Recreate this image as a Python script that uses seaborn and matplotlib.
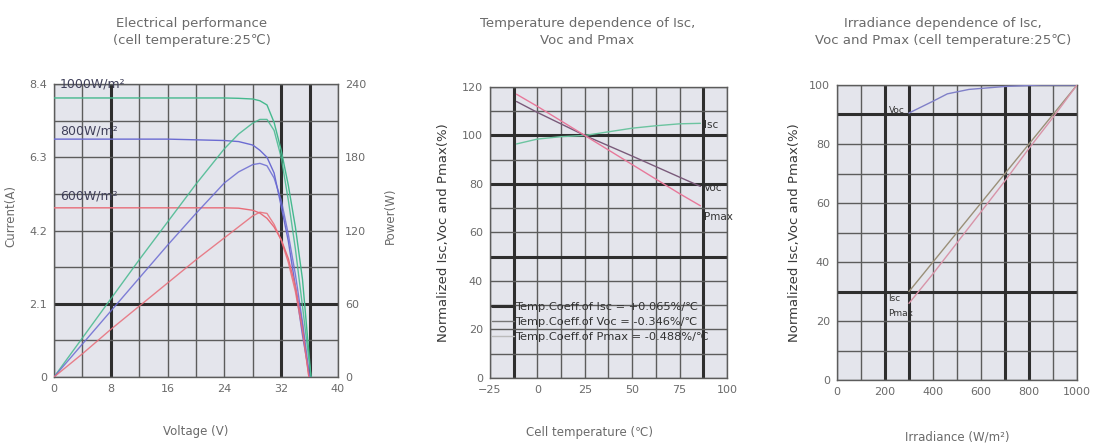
import pandas as pd
import seaborn as sns
import matplotlib.pyplot as plt
from matplotlib.lines import Line2D

# --- data ---
# panel 1: I-V and P-V curves
v_1000 = [0, 4, 8, 12, 16, 20, 24, 26, 28, 29, 30, 31, 32, 33, 34, 35, 36.2]
v_800 = [0, 4, 8, 12, 16, 20, 24, 26, 28, 29, 30, 31, 32, 33, 34, 35, 36.0]
v_600 = [0, 4, 8, 12, 16, 20, 24, 26, 28, 29, 30, 31, 32, 33, 34, 35, 35.9]
i_1000 = [8.0, 8.0, 8.0, 8.0, 8.0, 8.0, 8.0, 7.99, 7.97, 7.92, 7.8, 7.3, 6.5, 5.5, 4.3, 2.8, 0]
i_800 = [6.82, 6.82, 6.82, 6.82, 6.82, 6.8, 6.78, 6.75, 6.65, 6.5, 6.3, 5.85, 4.9, 3.9, 2.6, 1.2, 0]
i_600 = [4.85, 4.85, 4.85, 4.85, 4.85, 4.85, 4.85, 4.84, 4.78, 4.7, 4.55, 4.3, 3.94, 3.4, 2.6, 1.5, 0]
p_1000 = [0, 32, 64, 96, 127, 158, 187, 199, 208, 211, 211, 202, 180, 145, 105, 58, 0]
p_800 = [0, 27, 54, 81, 108, 134, 159, 168, 174, 175, 173, 163, 145, 117, 84, 45, 0]
p_600 = [0, 19, 39, 58, 77, 96, 114, 123, 132, 135, 134, 125, 112, 94, 70, 38, 0]
irr_labels = ['1000W/m²', '800W/m²', '600W/m²']

# panel 2: temperature dependence
temp_isc = [-11, 0, 12.5, 25, 37.5, 50, 62.5, 75, 86]
isc_temp = [96.5, 98.5, 99.5, 100, 101.5, 103, 104, 104.8, 105]
temp_vp = [-11, 0, 25, 50, 75, 86]
voc_temp = [114, 109.5, 100, 91.5, 82.8, 79]
pmax_temp = [117, 112, 100, 88, 76, 71]
coeff_text = ['Temp.Coeff.of Isc = +0.065%/℃',
              'Temp.Coeff.of Voc = -0.346%/℃',
              'Temp.Coeff.of Pmax = -0.488%/℃']

# panel 3: irradiance dependence
irr_voc = [300, 400, 460, 550, 700, 850, 1000]
voc_irr = [90.5, 94.5, 97, 98.5, 99.5, 100, 100]
irr_lin = [300, 400, 500, 600, 700, 800, 900, 1000]
isc_irr = [30, 40, 50, 60, 70, 80, 90, 100]
pmax_irr = [26, 36, 46.5, 57, 67.5, 78.5, 89, 100]

sns.set_style('white')
plt.rcParams['font.family'] = ['DejaVu Sans', 'Noto Sans CJK SC']

TXT = '#6a6a6a'
FACE = '#e4e5ec'
GRID = '#5c5c5c'
THICK = '#2e2e2e'
TICK_FS = 8
LAB_FS = 8.5

fig = plt.figure(figsize=(11.02, 4.45), dpi=100)
ax1 = fig.add_axes([0.049, 0.1528, 0.2577, 0.6584])
ax2 = fig.add_axes([0.4446, 0.1506, 0.2151, 0.654])
ax3 = fig.add_axes([0.7595, 0.146, 0.2178, 0.663])


def style_axes(ax, xgrid, ygrid, thick_x, thick_y):
    ax.set_facecolor(FACE)
    for x in xgrid:
        ax.axvline(x, color=THICK if x in thick_x else GRID,
                   lw=2.2 if x in thick_x else 1.0, zorder=1)
    for y in ygrid:
        ax.axhline(y, color=THICK if y in thick_y else GRID,
                   lw=2.2 if y in thick_y else 1.0, zorder=1)
    for s in ax.spines.values():
        s.set_color(GRID)
        s.set_linewidth(1.0)
    ax.tick_params(length=0, labelsize=TICK_FS, labelcolor=TXT, pad=5)


# ---------- panel 1 ----------
iv = pd.concat([
    pd.DataFrame({'V': v_1000, 'I': i_1000, 'P': p_1000, 'irr': irr_labels[0]}),
    pd.DataFrame({'V': v_800, 'I': i_800, 'P': p_800, 'irr': irr_labels[1]}),
    pd.DataFrame({'V': v_600, 'I': i_600, 'P': p_600, 'irr': irr_labels[2]}),
])
pal1 = {irr_labels[0]: '#45b98e', irr_labels[1]: '#6b6bd2', irr_labels[2]: '#e86c78'}

style_axes(ax1, range(0, 41, 4), [k * 1.05 for k in range(9)], [8, 32, 36], [2.1])
sns.lineplot(data=iv, x='V', y='I', hue='irr', palette=pal1, ax=ax1,
             legend=False, estimator=None, lw=1.0, zorder=3)
ax1.set_xlim(0, 40)
ax1.set_ylim(0, 8.4)
ax1.set_xticks([0, 8, 16, 24, 32, 40])
ax1.set_yticks([0, 2.1, 4.2, 6.3, 8.4])
ax1.set_yticklabels(['0', '2.1', '4.2', '6.3', '8.4'])
ax1.set_xlabel('Voltage (V)', fontsize=LAB_FS, color=TXT)
ax1.set_ylabel('Current(A)', fontsize=LAB_FS, color=TXT)
ax1.xaxis.set_label_coords(0.5, -0.165)
ax1.yaxis.set_label_coords(-0.13, 0.55)

ax1b = ax1.twinx()
sns.lineplot(data=iv, x='V', y='P', hue='irr', palette=pal1, ax=ax1b,
             legend=False, estimator=None, lw=1.0, alpha=0.85)
ax1b.set_ylim(0, 240)
ax1b.set_yticks([0, 60, 120, 180, 240])
ax1b.tick_params(length=0, labelsize=TICK_FS, labelcolor=TXT, pad=5)
ax1b.set_ylabel('Power(W)', fontsize=LAB_FS, color=TXT)
ax1b.yaxis.set_label_coords(1.16, 0.55)
for s in ax1b.spines.values():
    s.set_visible(False)

for lab, yv in zip(irr_labels, [8.4, 7.05, 5.2]):
    ax1.text(0.8, yv, lab, fontsize=9, color='#40405a', va='center', zorder=4)

# ---------- panel 2 ----------
td = pd.concat([
    pd.DataFrame({'T': temp_isc, 'val': isc_temp, 'par': 'Isc'}),
    pd.DataFrame({'T': temp_vp, 'val': voc_temp, 'par': 'Voc'}),
    pd.DataFrame({'T': temp_vp, 'val': pmax_temp, 'par': 'Pmax'}),
])
pal2 = {'Isc': '#6cc4a0', 'Voc': '#7a5a7a', 'Pmax': '#e8789a'}
style_axes(ax2, [-25 + 12.5 * k for k in range(11)], range(0, 121, 10),
           [-12.5, 87.5], [100, 80, 50])
sns.lineplot(data=td, x='T', y='val', hue='par', palette=pal2, ax=ax2,
             legend=False, estimator=None, lw=1.0, zorder=3)
ax2.set_xlim(-25, 100)
ax2.set_ylim(0, 120)
ax2.set_xticks([-25, 0, 25, 50, 75, 100])
ax2.set_yticks(range(0, 121, 20))
ax2.set_xlabel('Cell temperature (℃)', fontsize=LAB_FS, color=TXT)
ax2.set_ylabel('Normalized Isc,Voc and Pmax(%)', fontsize=9.5, color='#3a3a3a')
ax2.xaxis.set_label_coords(0.42, -0.165)
ax2.yaxis.set_label_coords(-0.17, 0.5)
for lab, yv in zip(['Isc', 'Voc', 'Pmax'], [104.5, 78.5, 66.5]):
    ax2.text(88, yv, lab, fontsize=7.5, color='#333333', va='center', zorder=4)
handles = [Line2D([], [], color=THICK, lw=2.2),
           Line2D([], [], color='#777777', lw=1.0),
           Line2D([], [], color='#bbbbbb', lw=1.0)]
ax2.legend(handles, coeff_text, loc='lower left', bbox_to_anchor=(-0.02, 0.1),
           frameon=False, fontsize=8.2, labelcolor='#333333', handlelength=1.9,
           handletextpad=0.1, labelspacing=0.45, borderpad=0.1)

# ---------- panel 3 ----------
idf = pd.concat([
    pd.DataFrame({'G': irr_voc, 'val': voc_irr, 'par': 'Voc'}),
    pd.DataFrame({'G': irr_lin, 'val': isc_irr, 'par': 'Isc'}),
    pd.DataFrame({'G': irr_lin, 'val': pmax_irr, 'par': 'Pmax'}),
])
pal3 = {'Voc': '#8080c8', 'Isc': '#9a8f78', 'Pmax': '#d894a8'}
style_axes(ax3, range(0, 1001, 100), range(0, 101, 10), [200, 300, 700, 800], [30, 90])
sns.lineplot(data=idf, x='G', y='val', hue='par', palette=pal3, ax=ax3,
             legend=False, estimator=None, lw=1.0, zorder=3)
ax3.set_xlim(0, 1000)
ax3.set_ylim(0, 100)
ax3.set_xticks(range(0, 1001, 200))
ax3.set_yticks(range(0, 101, 20))
ax3.set_xlabel('Irradiance (W/m²)', fontsize=LAB_FS, color=TXT)
ax3.set_ylabel('Normalized Isc,Voc and Pmax(%)', fontsize=9.5, color='#3a3a3a')
ax3.xaxis.set_label_coords(0.5, -0.17)
ax3.yaxis.set_label_coords(-0.15, 0.5)
for lab, (xv, yv) in zip(['Voc', 'Isc', 'Pmax'], [(215, 91.5), (215, 27.5), (215, 22.5)]):
    ax3.text(xv, yv, lab, fontsize=6.5, color='#333333', va='center', zorder=4)

# ---------- titles ----------
titles = ['Electrical performance\n(cell temperature:25℃)',
          'Temperature dependence of Isc,\nVoc and Pmax',
          'Irradiance dependence of Isc,\nVoc and Pmax (cell temperature:25℃)']
for xc, t in zip([0.174, 0.533, 0.856], titles):
    fig.text(xc, 0.928, t, ha='center', va='center', fontsize=9.5,
             color=TXT, linespacing=1.35)

fig.savefig('out.png', dpi=100)
